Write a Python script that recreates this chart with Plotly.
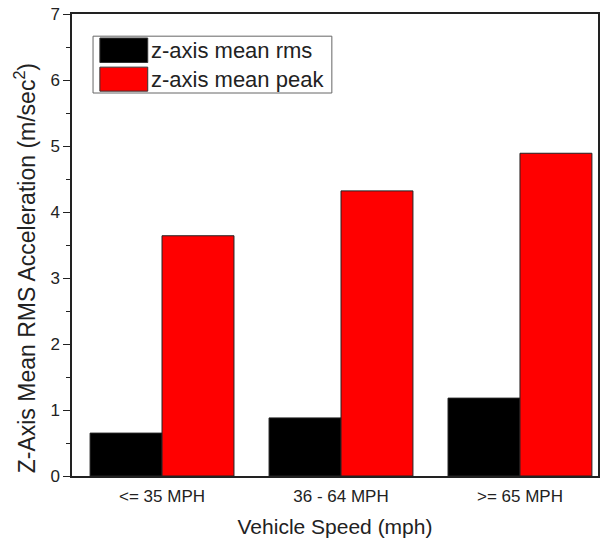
import plotly.graph_objects as go

categories = ["<= 35 MPH", "36 - 64 MPH", ">= 65 MPH"]
rms_values = [0.65, 0.88, 1.18]
peak_values = [3.64, 4.32, 4.89]
series_names = ["z-axis mean rms", "z-axis mean peak"]
series_colors = ["#000000", "#FF0000"]

x_pos = list(range(len(categories)))

fig = go.Figure()
for name, vals, col in zip(series_names, [rms_values, peak_values], series_colors):
    fig.add_trace(go.Bar(
        x=x_pos, y=vals, name=name,
        marker=dict(color=col, line=dict(color="#222222", width=1)),
        showlegend=False,
    ))

# hand-drawn legend box (big swatches like the original)
fig.add_shape(type="rect", xref="paper", yref="paper",
              x0=0.040, x1=0.494, y0=0.829, y1=0.952,
              line=dict(color="#666666", width=1), fillcolor="white")
swatch_y = [(0.895, 0.948), (0.833, 0.885)]
for name, col, (y0, y1) in zip(series_names, series_colors, swatch_y):
    fig.add_shape(type="rect", xref="paper", yref="paper",
                  x0=0.053, x1=0.144, y0=y0, y1=y1,
                  line=dict(color="#333333", width=1), fillcolor=col)
    fig.add_annotation(xref="paper", yref="paper", x=0.147, y=(y0 + y1) / 2,
                       text=name, showarrow=False, xanchor="left", yanchor="middle",
                       font=dict(size=22, color="#222222"))

# y title as annotation, it sits a bit below the axis middle in the original
fig.add_annotation(xref="paper", yref="paper", x=-0.089, y=0.45,
                   text="Z-Axis Mean RMS Acceleration (m/sec<sup>2</sup>)",
                   textangle=-90, showarrow=False, xanchor="center", yanchor="middle",
                   font=dict(size=23, color="#222222"))

fig.update_xaxes(
    tickvals=x_pos, ticktext=categories,
    range=[-0.503, 2.436], automargin=False,
    showline=True, linecolor="#222222", linewidth=1.5, mirror=True,
    ticks="", showgrid=False, zeroline=False, ticklabelstandoff=4,
    tickfont=dict(size=17, color="#222222"),
    title=dict(text="Vehicle Speed (mph)", font=dict(size=21, color="#222222"), standoff=14),
)
fig.update_yaxes(
    range=[0, 7], dtick=1, automargin=False,
    showline=True, linecolor="#222222", linewidth=1.5, mirror=True,
    ticks="outside", ticklen=7, tickwidth=1.2, tickcolor="#222222",
    minor=dict(ticks="outside", ticklen=4, dtick=0.5, tickcolor="#222222", tickwidth=1.2),
    showgrid=False, zeroline=False,
    tickfont=dict(size=17, color="#222222"),
)
fig.update_layout(
    width=600, height=543,
    font=dict(family="Arial, Liberation Sans, sans-serif"),
    barmode="group", bargap=0.196, bargroupgap=0,
    plot_bgcolor="white", paper_bgcolor="white",
    margin=dict(l=72, r=2, t=14, b=67),
)

fig.write_html("out.html", config={"displayModeBar": False},
               post_script="document.body.style.margin='0';")
